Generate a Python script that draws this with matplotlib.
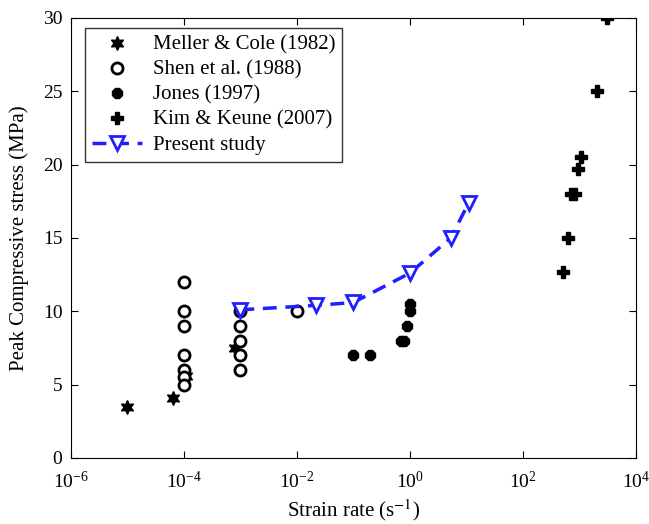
import numpy as np
import matplotlib.pyplot as plt

plt.rcParams['font.family'] = ['Liberation Serif', 'DejaVu Serif']
plt.rcParams['mathtext.fontset'] = 'stix'

# Meller & Cole (1982)
mc_rate = [1e-5, 6.5e-5, 1.1e-4, 8e-4]
mc_stress = [3.5, 4.1, 5.6, 7.5]

# Shen et al. (1988)
shen_rate = [1e-4, 1e-4, 1e-4, 1e-4, 1e-4, 1e-4, 1e-4, 1e-3, 1e-3, 1e-3, 1e-3, 1e-3, 1e-2]
shen_stress = [12, 10, 9, 7, 6, 5.5, 5, 10, 9, 8, 7, 6, 10]

# Jones (1997)
jones_rate = [0.1, 0.2, 0.7, 0.8, 0.9, 1.0, 1.0]
jones_stress = [7, 7, 8, 8, 9, 10, 10.5]

# Kim & Keune (2007)
kk_rate = [520, 620, 720, 820, 950, 1050, 2000, 3100]
kk_stress = [12.7, 15, 18, 18, 19.7, 20.5, 25, 30]

# Present study
ps_rate = [1e-3, 2.2e-2, 0.1, 1.0, 5.3, 11]
ps_stress = [10.1, 10.4, 10.6, 12.6, 15, 17.4]

fig = plt.figure(figsize=(6.49, 5.24), dpi=100)
ax = fig.add_axes([0.109, 0.126, 0.871, 0.840])

ax.plot(mc_rate, mc_stress, linestyle='none', marker=(6, 1, 0), color='k', markersize=10,
        label='Meller & Cole (1982)')
ax.plot(shen_rate, shen_stress, linestyle='none', marker='o', markerfacecolor='white',
        markeredgecolor='k', markeredgewidth=2, markersize=8, label='Shen et al. (1988)')
ax.plot(jones_rate, jones_stress, linestyle='none', marker='8', color='k', markersize=8,
        label='Jones (1997)')
ax.plot(kk_rate, kk_stress, linestyle='none', marker='P', color='k', markersize=8,
        label='Kim & Keune (2007)')
ax.plot(ps_rate, ps_stress, linestyle=(0, (4, 2.5)), color='#1f1fff', linewidth=2.5,
        marker='v', markersize=10, markerfacecolor='white', markeredgecolor='#1f1fff',
        markeredgewidth=2, label='Present study')

ax.set_xscale('log')
ax.set_xlim(1e-6, 1e4)
ax.set_ylim(0, 30)
ax.set_xticks([1e-6, 1e-4, 1e-2, 1e0, 1e2, 1e4])
ax.set_yticks([0, 5, 10, 15, 20, 25, 30])
ax.minorticks_off()
ax.tick_params(direction='in', top=True, right=True, labelsize=14, length=5)
ax.tick_params(axis='x', pad=9)
ax.tick_params(axis='y', pad=6)

ax.set_xlabel(r'Strain rate (s$^{-1}$)', fontsize=15, labelpad=4)
ax.set_ylabel('Peak Compressive stress (MPa)', fontsize=15, labelpad=10)

leg = ax.legend(loc='upper left', fontsize=15, frameon=True, fancybox=False,
                edgecolor='k', borderpad=0.35, handlelength=2.4, handletextpad=0.5,
                labelspacing=0.26, borderaxespad=0,
                bbox_to_anchor=(0.025, 0.977))
leg.get_frame().set_linewidth(1)

fig.savefig('out.png', dpi=100)
